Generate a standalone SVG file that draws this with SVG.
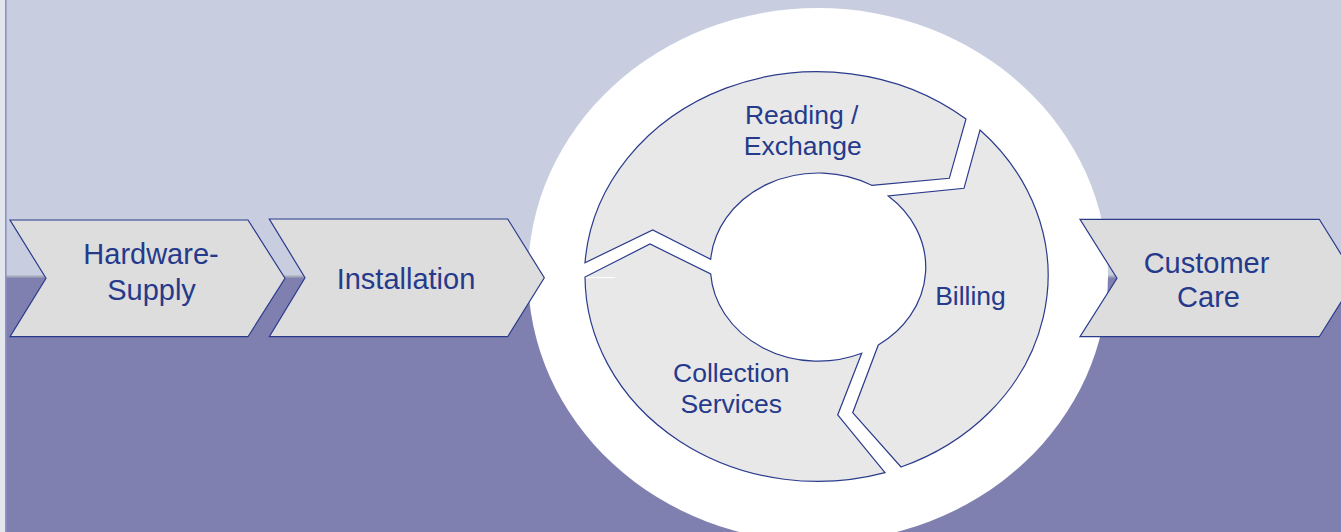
<svg xmlns="http://www.w3.org/2000/svg" width="1341" height="532" viewBox="0 0 1341 532">
<style>
.chev{fill:#DDDDDD;stroke:#2B3B8C;stroke-width:1.2;stroke-linejoin:miter}
.seg{fill:#E8E8E8;stroke:#2B3B8C;stroke-width:1.2;stroke-linejoin:miter}
.t1{font-family:"Liberation Sans",Arial,sans-serif;font-size:29px;fill:#253A8B;text-anchor:middle}
.t2{font-family:"Liberation Sans",Arial,sans-serif;font-size:26.5px;fill:#253A8B;text-anchor:middle}
</style>
<g id="background">
<rect x="0" y="0" width="1341" height="277" fill="#C8CEE0"/>
<rect x="0" y="277" width="1341" height="255" fill="#8080B0"/>
<rect x="0" y="275.5" width="1341" height="2" fill="#A4AAB8"/>
<rect x="0" y="0" width="5" height="532" fill="#E4E6EE"/>
<rect x="5" y="0" width="1.6" height="532" fill="#8C90C4"/>
<ellipse cx="818" cy="275" rx="290" ry="267" fill="#FFFFFF"/>
</g>
<g id="connectors"></g>
<g id="hardware-supply">
<path class="chev" d="M10,220 L248,220 L285,278.3 L248,336.7 L10,336.7 L46,278.3 Z"/>
<text class="t1" x="151" y="263.5">Hardware-</text>
<text class="t1" x="151.5" y="299.5">Supply</text>
</g>
<g id="installation">
<path class="chev" d="M269.3,219 L507.7,219 L544.3,277.7 L507.7,336.7 L269.3,336.7 L305,277.7 Z"/>
<text class="t1" x="406" y="289.3">Installation</text>
</g>
<g id="customer-care">
<path class="chev" d="M1080,219.3 L1319.3,219.3 L1356,278.3 L1319.3,336.7 L1080,336.7 L1117,278.3 Z"/>
<text class="t1" x="1206.5" y="272.7">Customer</text>
<text class="t1" x="1208.5" y="306.5">Care</text>
</g>
<g id="reading-exchange">
<path class="seg" d="M585,262.7 A233 206 0 0 1 966,119 L949.3,178.3 L871.7,185.3 A108 94 0 0 0 710.7,259.3 L652.7,230 Z"/>
<text class="t2" x="801.7" y="124.3">Reading /</text>
<text class="t2" x="802.7" y="155">Exchange</text>
</g>
<g id="billing">
<path class="seg" d="M980,130 A233 206 0 0 1 901,467 L852.7,412.7 L878.3,345 A108 94 0 0 0 888.3,196 L964,188.3 Z"/>
<text class="t2" x="970.5" y="304.5">Billing</text>
</g>
<g id="collection-services">
<path class="seg" d="M885,472.7 A233 206 0 0 1 585,277 L650,244 L710.7,274 A108 94 0 0 0 861.7,353.3 L837.7,415 Z"/>
<line x1="586" y1="277.6" x2="615" y2="277.6" stroke="#FFFFFF" stroke-width="1"/>
<text class="t2" x="731.3" y="381.7">Collection</text>
<text class="t2" x="731.2" y="413.3">Services</text>
</g>
</svg>
